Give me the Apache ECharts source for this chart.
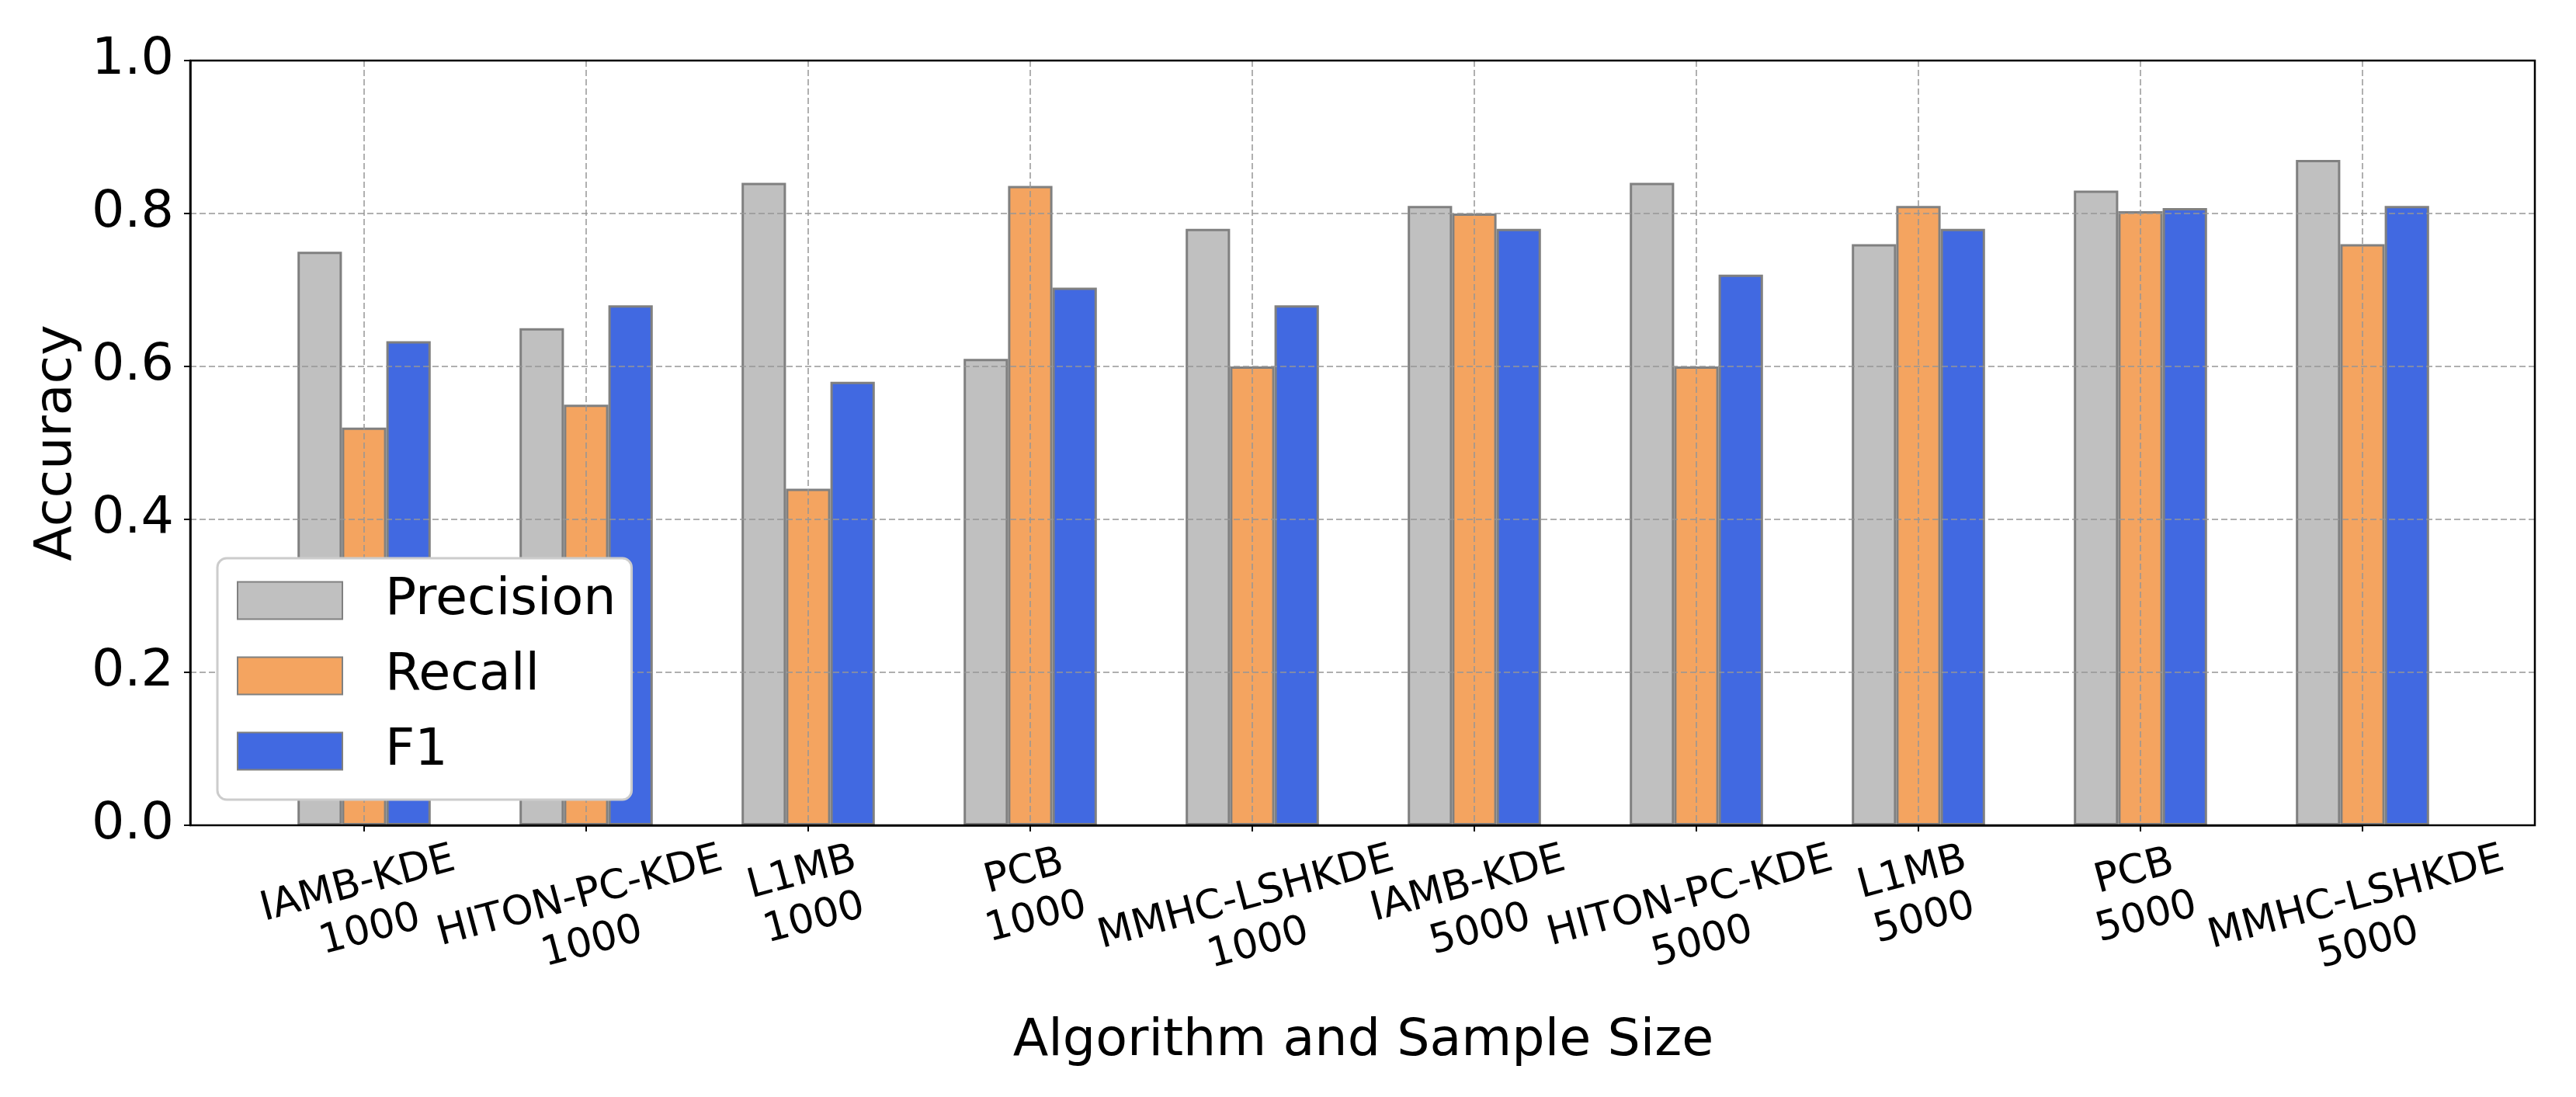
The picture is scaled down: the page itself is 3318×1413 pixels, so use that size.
<!DOCTYPE html>
<html><head><meta charset="utf-8">
<script src="https://cdn.jsdelivr.net/npm/echarts@6/dist/echarts.min.js"></script>
<style>html,body{margin:0;padding:0;background:#fff}#c{width:3318px;height:1413px}</style>
</head><body><div id="c"></div>
<script>
const categories = ['IAMB-KDE\n1000', 'HITON-PC-KDE\n1000', 'L1MB\n1000', 'PCB\n1000', 'MMHC-LSHKDE\n1000',
                    'IAMB-KDE\n5000', 'HITON-PC-KDE\n5000', 'L1MB\n5000', 'PCB\n5000', 'MMHC-LSHKDE\n5000'];
const seriesNames = ['Precision', 'Recall', 'F1'];
const precision = [0.75, 0.65, 0.84, 0.61, 0.78, 0.81, 0.84, 0.76, 0.83, 0.87];
const recall    = [0.52, 0.55, 0.44, 0.836, 0.60, 0.80, 0.60, 0.81, 0.803, 0.76];
const f1        = [0.633, 0.68, 0.58, 0.703, 0.68, 0.78, 0.72, 0.78, 0.807, 0.81];
const yMin = 0, yMax = 1.0, yStep = 0.2;

const FONT = 'DejaVu Sans';
const colors = ['#c0c0c0', '#f4a460', '#4169e1'];
const LBL = 52, LH = 61, ROT = 15, T = -9;
const ctx = document.createElement('canvas').getContext('2d');
ctx.font = LBL + 'px "' + FONT + '"';
const sn = Math.sin(ROT * Math.PI / 180), cs = Math.cos(ROT * Math.PI / 180);
const catData = categories.map(t => {
  const lines = t.split('\n');
  const W = Math.max(...lines.map(l => ctx.measureText(l).width));
  const H = lines.length * LH;
  const a = -cs * H * sn / 2 - sn * (T + W * sn / 2);
  const b = -sn * H * sn / 2 + cs * (T + W * sn / 2);
  return { value: t, textStyle: {
    align: 'center', verticalAlign: 'top', fontSize: LBL, lineHeight: LH, fontFamily: FONT, color: '#000',
    padding: [Math.max(0, b), Math.max(0, -2 * a), 0, Math.max(0, 2 * a)] } };
});

const gridLine = { type: [8, 4], color: 'rgba(150,150,150,0.75)', width: 2 };
const chart = echarts.init(document.getElementById('c'), null, { renderer: 'canvas' });
const mk = (name, data, i) => ({
  name, type: 'bar', data, xAxisIndex: 1, yAxisIndex: 1,
  barWidth: 57.2, barGap: '0%', clip: false, z: 2,
  itemStyle: { color: colors[i], borderColor: '#808080', borderWidth: 3 }
});
chart.setOption({
  animation: false,
  backgroundColor: '#ffffff',
  textStyle: { fontFamily: FONT },
  grid: [
    { left: 245, top: 78, width: 3020, height: 985, show: true, borderColor: '#000', borderWidth: 2.5,
      backgroundColor: 'transparent', z: 4, outerBoundsMode: 'none', containLabel: false },
    { left: 469, top: 78, width: 2574, height: 985, show: false, outerBoundsMode: 'none', containLabel: false }
  ],
  legend: {
    orient: 'vertical', left: 280, top: 719, itemWidth: 135, itemHeight: 48, itemGap: 30,
    padding: [21, 20, 29, 25], backgroundColor: '#ffffff', borderColor: '#cccccc',
    borderWidth: 3, borderRadius: 12, icon: 'rect', z: 10, selectedMode: false,
    textStyle: { fontSize: 66.7, fontFamily: FONT, color: '#000', padding: [0, 0, 0, 50] },
    data: seriesNames
  },
  xAxis: [
    { gridIndex: 0, type: 'value', show: false, min: 0, max: 1 },
    { gridIndex: 1, type: 'category', data: catData, boundaryGap: false, z: 3,
      axisLine: { show: true, lineStyle: { color: '#000', width: 2.5 } },
      axisTick: { show: true, interval: 0, length: 8, inside: false, lineStyle: { color: '#000', width: 2 } },
      axisLabel: { interval: 0, rotate: ROT, align: 'center', verticalAlign: 'top', fontSize: LBL, lineHeight: LH,
                   margin: 23, fontFamily: FONT, color: '#000', hideOverlap: false },
      splitLine: { show: true, interval: 0, lineStyle: gridLine },
      name: 'Algorithm and Sample Size', nameLocation: 'middle', nameGap: 228,
      nameTextStyle: { fontSize: 66.7, fontFamily: FONT, color: '#000', lineHeight: 80 } }
  ],
  yAxis: [
    { gridIndex: 0, type: 'value', min: yMin, max: yMax, interval: yStep, z: 3,
      axisLine: { show: true, lineStyle: { color: '#000', width: 2.5 } },
      axisTick: { show: true, length: 8, inside: false, lineStyle: { color: '#000', width: 2 } },
      axisLabel: { fontSize: 66.7, fontFamily: FONT, color: '#000', margin: 21, formatter: v => v.toFixed(1) },
      splitLine: { show: true, lineStyle: gridLine },
      name: 'Accuracy', nameLocation: 'middle', nameRotate: 90, nameGap: 114,
      nameTextStyle: { fontSize: 66.7, fontFamily: FONT, color: '#000' } },
    { gridIndex: 1, type: 'value', min: yMin, max: yMax, show: false }
  ],
  series: [mk(seriesNames[0], precision, 0), mk(seriesNames[1], recall, 1), mk(seriesNames[2], f1, 2)]
});
</script></body></html>
